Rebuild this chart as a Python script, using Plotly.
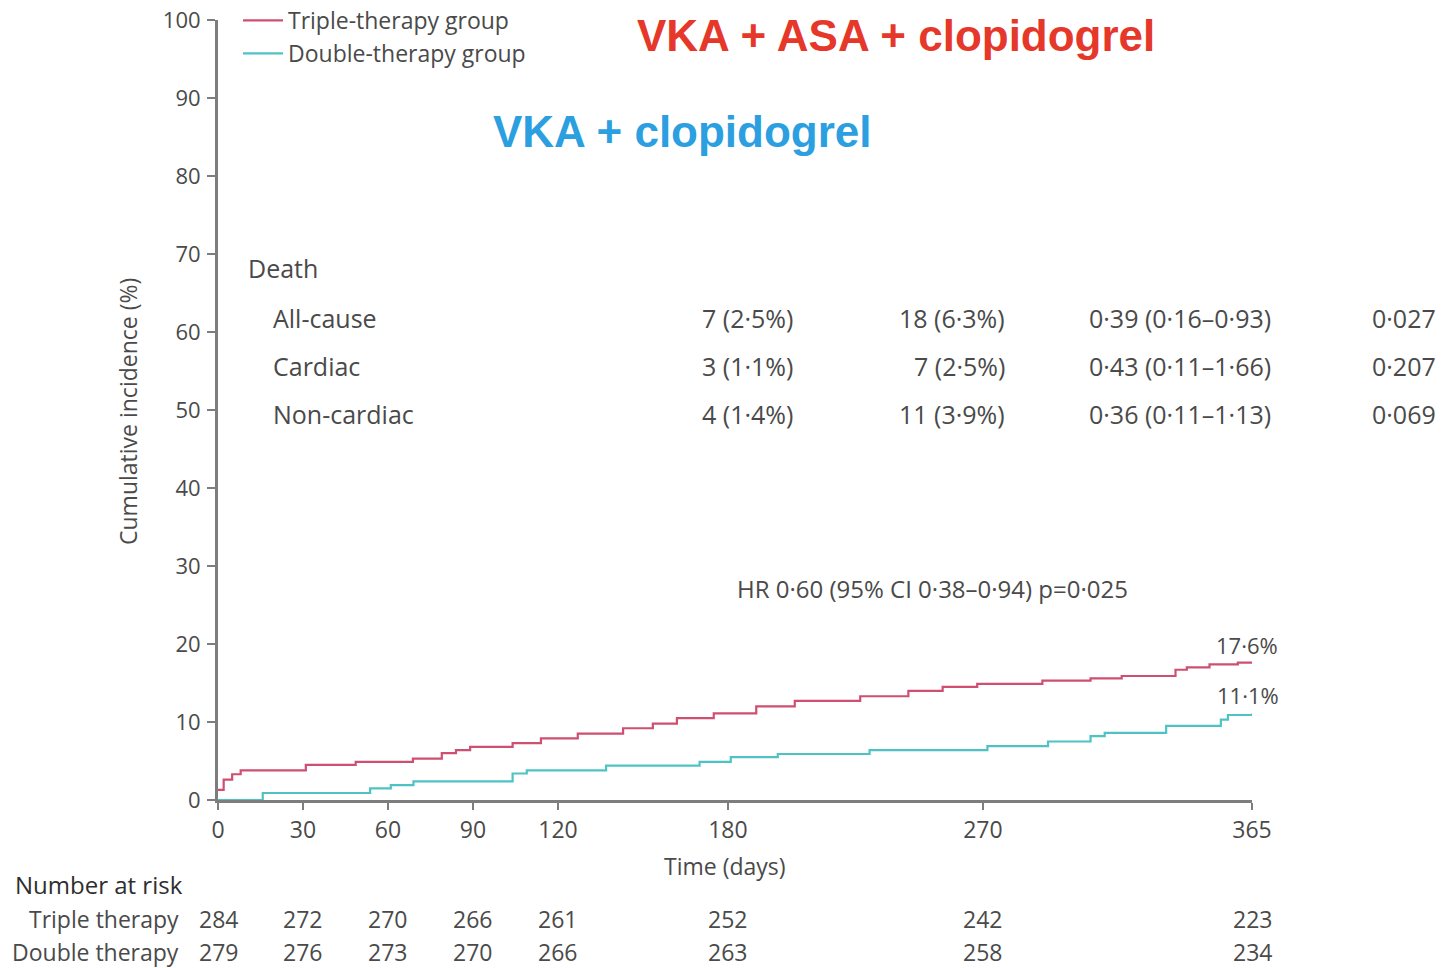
import plotly.graph_objects as go

# Kaplan–Meier style cumulative incidence of death (step curves)
triple_days = [0, 2, 5, 8, 31, 48.6, 68.8, 79, 84, 89, 104, 114, 127, 143, 153.5, 162, 175,
               190, 203.6, 226.7, 243.7, 255.8, 268, 291, 308, 319, 338, 342, 350, 360, 365]
triple_inc = [1.3, 2.6, 3.3, 3.8, 4.5, 4.9, 5.3, 6.0, 6.4, 6.8, 7.3, 7.9, 8.5, 9.2, 9.8, 10.5, 11.1,
              12.0, 12.7, 13.3, 14.0, 14.5, 14.9, 15.3, 15.6, 15.9, 16.7, 17.0, 17.4, 17.6, 17.6]

double_days = [0, 15.8, 53.7, 61, 69, 104, 109, 137, 170, 181, 197.6, 230, 271.6, 293, 308, 313,
               334.7, 354, 356.5, 365]
double_inc = [0.0, 0.9, 1.5, 1.9, 2.4, 3.4, 3.8, 4.4, 4.9, 5.5, 5.9, 6.4, 6.9, 7.5, 8.2, 8.6,
              9.5, 10.3, 10.9, 11.1]

x_ticks = [0, 30, 60, 90, 120, 180, 270, 365]
y_ticks = [0, 10, 20, 30, 40, 50, 60, 70, 80, 90, 100]

risk_triple = [284, 272, 270, 266, 261, 252, 242, 223]
risk_double = [279, 276, 273, 270, 266, 263, 258, 234]

death_rows = ["All-cause", "Cardiac", "Non-cardiac"]
death_double = ["7 (2·5%)", "3 (1·1%)", "4 (1·4%)"]
death_triple = ["18 (6·3%)", "7 (2·5%)", "11 (3·9%)"]
death_hr = ["0·39 (0·16–0·93)", "0·43 (0·11–1·66)", "0·36 (0·11–1·13)"]
death_p = ["0·027", "0·207", "0·069"]

RED = "#cf4f70"
TEAL = "#4fc3c4"
TXT = "#4a4a4a"
AX = "#7d7d7d"
FONT = "Open Sans, sans-serif"
BOLD = "Liberation Sans, Arial, sans-serif"

W, H = 1445, 968
L, R, T, B = 218, 1252, 20, 800


def px(xpix):
    return (xpix - L) / (R - L)


def py(ypix):
    return (B - ypix) / (B - T)


fig = go.Figure()
fig.add_trace(go.Scatter(x=triple_days, y=triple_inc, mode="lines", line_shape="hv",
                         line=dict(color=RED, width=2.2), name="Triple-therapy group"))
fig.add_trace(go.Scatter(x=double_days, y=double_inc, mode="lines", line_shape="hv",
                         line=dict(color=TEAL, width=2.2), name="Double-therapy group"))

ann = []


def text(x, y, s, size=24, color=TXT, xanchor="left", xref="paper", bold=False, family=FONT):
    ann.append(dict(x=x, y=y, xref=xref, yref="paper", text=f"<b>{s}</b>" if bold else s,
                    showarrow=False, xanchor=xanchor, yanchor="middle",
                    font=dict(size=size, color=color, family=family)))


# Headline labels for the two regimens
text(px(896), py(35), "VKA + ASA + clopidogrel", size=44, color="#e6382a",
     xanchor="center", bold=True, family=BOLD)
text(px(682), py(131), "VKA + clopidogrel", size=44, color="#2c9fe0",
     xanchor="center", bold=True, family=BOLD)

# Death table
text(px(246), py(268), "Death", size=25)
for i, row in enumerate(death_rows):
    yy = py(318 + 48 * i)
    text(px(271), yy, row, size=25)
    text(px(795), yy, death_double[i], size=25, xanchor="right")
    text(px(1007), yy, death_triple[i], size=25, xanchor="right")
    text(px(1087), yy, death_hr[i], size=25)
    text(px(1438), yy, death_p[i], size=25, xanchor="right")

text(px(932), py(588), "HR 0·60 (95% CI 0·38–0·94) p=0·025", size=24, xanchor="center")
text(px(1247), py(645), "17·6%", size=22, xanchor="center")
text(px(1248), py(695), "11·1%", size=22, xanchor="center")

# Axis titles
ann.append(dict(x=px(128), y=py(412), xref="paper", yref="paper", text="Cumulative incidence (%)",
                showarrow=False, textangle=-90, xanchor="center", yanchor="middle",
                font=dict(size=23, color=TXT, family=FONT)))
text(px(725), py(866), "Time (days)", size=23, xanchor="center")

# Number at risk table
text(px(13), py(884), "Number at risk", size=24, color="#2e2e2e")
text(px(181), py(919), "Triple therapy", size=23, xanchor="right")
text(px(181), py(952), "Double therapy", size=23, xanchor="right")
for d, a, b in zip(x_ticks, risk_triple, risk_double):
    text(d, py(919), str(a), size=23, xanchor="center", xref="x")
    text(d, py(952), str(b), size=23, xanchor="center", xref="x")

fig.update_layout(
    width=W, height=H,
    margin=dict(l=L, r=W - R, t=T, b=H - B, pad=0, autoexpand=False),
    paper_bgcolor="white", plot_bgcolor="white",
    font=dict(family=FONT, color=TXT, size=22),
    annotations=ann,
    showlegend=True,
    legend=dict(x=px(238), y=py(-1), xanchor="left", yanchor="top",
                bgcolor="rgba(0,0,0,0)", font=dict(size=23, color=TXT, family=FONT),
                tracegroupgap=0, itemwidth=40),
    xaxis=dict(range=[0, 365], tickmode="array", tickvals=x_ticks,
               showgrid=False, zeroline=False, showline=True, linecolor=AX, linewidth=3,
               ticks="outside", ticklen=7, tickwidth=2, tickcolor=AX,
               tickfont=dict(size=23, color=TXT), ticklabelstandoff=0),
    yaxis=dict(range=[0, 100], tickmode="array", tickvals=y_ticks,
               showgrid=False, zeroline=False, showline=True, linecolor=AX, linewidth=3,
               ticks="outside", ticklen=8, tickwidth=2, tickcolor=AX,
               tickfont=dict(size=22, color=TXT), ticklabelstandoff=2),
)

fig.write_html("out.html")
